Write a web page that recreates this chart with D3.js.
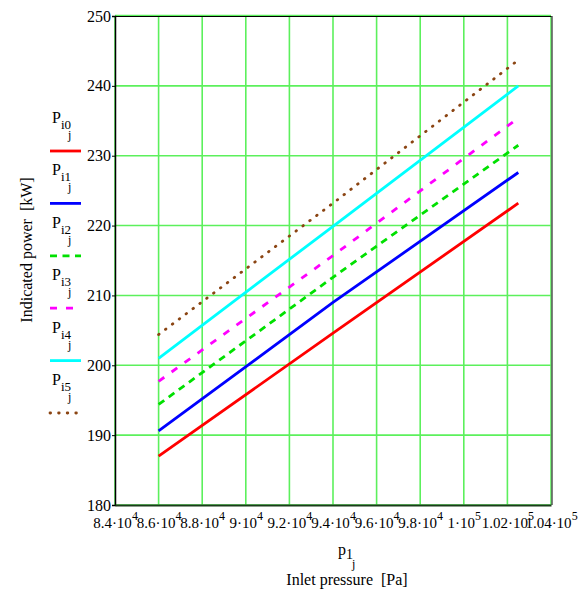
<!DOCTYPE html>
<html>
<head>
<meta charset="utf-8">
<script src="https://cdn.jsdelivr.net/npm/d3@7"></script>
<style>
  html, body { margin: 0; padding: 0; background: #fff; }
  svg { display: block; }
</style>
</head>
<body>
<div id="chart"></div>
<script>
// data
const pressure = [86000, 94000, 102500];
const Pi0 = [187.0, 204.6, 223.2];
const Pi1 = [190.6, 209.0, 227.6];
const Pi2 = [194.4, 212.6, 231.5];
const Pi3 = [197.7, 215.7, 235.4];
const Pi4 = [201.0, 219.9, 240.0];
const Pi5 = [204.4, 223.2, 243.7];

const seriesNames = ["i0", "i1", "i2", "i3", "i4", "i5"];
const seriesColors = ["#ff0000", "#0000ff", "#00e000", "#ff00ff", "#00ffff", "#8b4513"];
const seriesDash = [null, null, "7,5.5", "7,9", null, "0.6,8"];

const xTickValues = [84000, 86000, 88000, 90000, 92000, 94000, 96000, 98000, 100000, 102000, 104000];
const xTickMant = ["8.4", "8.6", "8.8", "9", "9.2", "9.4", "9.6", "9.8", "1", "1.02", "1.04"];
const xTickExp = ["4", "4", "4", "4", "4", "4", "4", "4", "5", "5", "5"];
const yTickValues = [180, 190, 200, 210, 220, 230, 240, 250];

const W = 582, H = 590;
const pLeft = 115, pRight = 551, pTop = 16, pBottom = 505;
const serif = "'Liberation Serif', 'Times New Roman', serif";

const svg = d3.select("#chart").append("svg")
  .attr("width", W).attr("height", H)
  .style("font-family", serif);

const x = d3.scaleLinear().domain([84000, 104000]).range([pLeft, pRight]);
const y = d3.scaleLinear().domain([180, 250]).range([pBottom, pTop]);

const gridColor = "#5cf05c";

// grid
const grid = svg.append("g");
grid.selectAll("line.v")
  .data(xTickValues)
  .join("line")
  .attr("class", "v")
  .attr("x1", d => x(d)).attr("x2", d => x(d))
  .attr("y1", pTop).attr("y2", pBottom)
  .attr("stroke", gridColor).attr("stroke-width", 1.6);
grid.selectAll("line.h")
  .data(yTickValues)
  .join("line")
  .attr("class", "h")
  .attr("x1", pLeft).attr("x2", pRight)
  .attr("y1", d => y(d)).attr("y2", d => y(d))
  .attr("stroke", gridColor).attr("stroke-width", 1.6);

// frame
svg.append("line").attr("x1", pLeft).attr("x2", pRight).attr("y1", pTop - 0.5).attr("y2", pTop - 0.5)
  .attr("stroke", gridColor).attr("stroke-width", 1.5);
svg.append("line").attr("x1", pLeft).attr("x2", pRight + 1).attr("y1", pTop + 0.5).attr("y2", pTop + 0.5)
  .attr("stroke", "#000").attr("stroke-width", 1);
svg.append("line").attr("x1", pRight + 1).attr("x2", pRight + 1).attr("y1", pTop).attr("y2", pBottom)
  .attr("stroke", "#555").attr("stroke-width", 1.5);

// y axis
const yAxis = d3.axisLeft(y).tickValues(yTickValues).tickSize(3).tickPadding(1);
const yg = svg.append("g").attr("transform", `translate(${pLeft},0)`).call(yAxis);
yg.attr("font-family", null).attr("font-size", null);
yg.select(".domain").attr("stroke", "#000").attr("stroke-width", 1.5);
yg.selectAll(".tick line").attr("stroke", "#000");
yg.selectAll(".tick text")
  .style("font-family", serif)
  .attr("font-size", 16).attr("fill", "#000");

// x axis
const xAxis = d3.axisBottom(x).tickValues(xTickValues).tickSize(0).tickFormat("");
const xg = svg.append("g").attr("transform", `translate(0,${pBottom})`).call(xAxis);
xg.attr("font-family", null).attr("font-size", null);
xg.select(".domain").attr("stroke", "#1a3d1a").attr("stroke-width", 2);

xg.selectAll(".tick").each(function(d, i) {
  const t = d3.select(this).append("text")
    .attr("y", 23)
    .attr("text-anchor", "middle")
    .style("font-family", serif)
    .attr("font-size", 15)
    .attr("fill", "#000");
  t.append("tspan").text(xTickMant[i] + "\u00b710");
  t.append("tspan").attr("dy", -8).attr("font-size", 12).text(xTickExp[i]);
});

// lines
const allSeries = [Pi0, Pi1, Pi2, Pi3, Pi4, Pi5];
const line = d3.line().x((d, i) => x(pressure[i])).y(d => y(d));

svg.append("g").selectAll("path")
  .data(allSeries)
  .join("path")
  .attr("d", d => line(d))
  .attr("fill", "none")
  .attr("stroke", (d, i) => seriesColors[i])
  .attr("stroke-width", 2.8)
  .attr("stroke-dasharray", (d, i) => seriesDash[i])
  .attr("stroke-linecap", (d, i) => i === 5 ? "round" : "butt");

// legend
const legend = svg.append("g");
seriesNames.forEach((name, i) => {
  const ly = 151 + i * 52.4;
  const t = legend.append("text")
    .attr("x", 52).attr("y", ly - 28)
    .attr("font-size", 16).attr("fill", "#000");
  t.append("tspan").text("P");
  t.append("tspan").attr("dy", 6).attr("font-size", 13).text(name);
  t.append("tspan").attr("dy", 10).attr("dx", -3).attr("font-size", 12).text("j");
  legend.append("line")
    .attr("x1", 50).attr("x2", 81)
    .attr("y1", ly).attr("y2", ly)
    .attr("stroke", seriesColors[i])
    .attr("stroke-width", 2.8)
    .attr("stroke-dasharray", seriesDash[i])
    .attr("stroke-linecap", i === 5 ? "round" : "butt");
});

// axis titles
svg.append("text")
  .attr("transform", "translate(32,250) rotate(-90)")
  .attr("text-anchor", "middle")
  .attr("font-size", 16).attr("fill", "#000")
  .text("Indicated power\u00a0 [kW]");

const px = svg.append("text")
  .attr("x", 338).attr("y", 555)
  .attr("font-size", 16).attr("fill", "#000");
px.append("tspan").text("p");
px.append("tspan").attr("dy", 4).attr("font-size", 14).text("1");
px.append("tspan").attr("dy", 9).attr("dx", -1).attr("font-size", 12).text("j");

svg.append("text")
  .attr("x", 347).attr("y", 585)
  .attr("text-anchor", "middle")
  .attr("font-size", 16).attr("fill", "#000")
  .text("Inlet pressure\u00a0 [Pa]");
</script>
</body>
</html>
